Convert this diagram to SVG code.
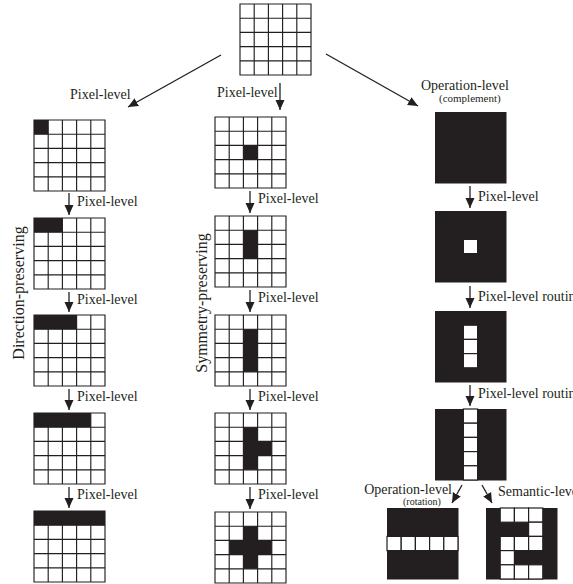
<svg xmlns="http://www.w3.org/2000/svg" xmlns:xlink="http://www.w3.org/1999/xlink" width="573" height="584" viewBox="0 0 573 584">
<style>
text{font-family:"Liberation Serif","DejaVu Serif",serif;fill:#231f20}
.lb{font-size:14px}
.sm{font-size:11px}
.xs{font-size:10px}
.vt{font-size:16px}
.bg{fill:#fff}
.k{fill:#231f20}
.wc{fill:#fff;stroke:#231f20;stroke-width:1.2}
.gl{fill:none;stroke:#231f20;stroke-width:1.15}
.con line{stroke:#231f20;stroke-width:1.3;marker-end:url(#ah)}
</style>
<defs>
<marker id="ah" markerUnits="userSpaceOnUse" markerWidth="10" markerHeight="10" refX="10" refY="5" orient="auto">
<path d="M0,0.5 L10,5 L0,9.5 z" fill="#231f20"/>
</marker>
<rect id="bgr" class="bg" width="71" height="71"/>
<path id="gl" class="gl" d="M0,0H71V71H0Z M14.2,0V71 M28.4,0V71 M42.6,0V71 M56.8,0V71 M0,14.2H71 M0,28.4H71 M0,42.6H71 M0,56.8H71"/>
<rect id="c" class="wc" width="14.2" height="14.2"/>
</defs>
<rect width="573" height="584" fill="#fff"/>

<g id="top" transform="translate(240,4)"><use xlink:href="#bgr"/><use xlink:href="#gl"/></g>

<g id="L1" transform="translate(34,120)"><use xlink:href="#bgr"/><rect class="k" width="14.2" height="14.2"/><use xlink:href="#gl"/></g>
<g id="L2" transform="translate(34,218)"><use xlink:href="#bgr"/><rect class="k" width="28.4" height="14.2"/><use xlink:href="#gl"/></g>
<g id="L3" transform="translate(34,315)"><use xlink:href="#bgr"/><rect class="k" width="42.6" height="14.2"/><use xlink:href="#gl"/></g>
<g id="L4" transform="translate(34,413)"><use xlink:href="#bgr"/><rect class="k" width="56.8" height="14.2"/><use xlink:href="#gl"/></g>
<g id="L5" transform="translate(34,511)"><use xlink:href="#bgr"/><rect class="k" width="71" height="14.2"/><use xlink:href="#gl"/></g>

<g id="M1" transform="translate(215,117)"><use xlink:href="#bgr"/><rect class="k" x="28.4" y="28.4" width="14.2" height="14.2"/><use xlink:href="#gl"/></g>
<g id="M2" transform="translate(215,216)"><use xlink:href="#bgr"/><rect class="k" x="28.4" y="14.2" width="14.2" height="28.4"/><use xlink:href="#gl"/></g>
<g id="M3" transform="translate(215,315)"><use xlink:href="#bgr"/><rect class="k" x="28.4" y="14.2" width="14.2" height="42.6"/><use xlink:href="#gl"/></g>
<g id="M4" transform="translate(215,413)"><use xlink:href="#bgr"/><rect class="k" x="28.4" y="14.2" width="14.2" height="42.6"/><rect class="k" x="42.6" y="28.4" width="14.2" height="14.2"/><use xlink:href="#gl"/></g>
<g id="M5" transform="translate(215,512)"><use xlink:href="#bgr"/><rect class="k" x="28.4" y="14.2" width="14.2" height="42.6"/><rect class="k" x="14.2" y="28.4" width="42.6" height="14.2"/><use xlink:href="#gl"/></g>

<g id="R1" transform="translate(435,112)"><rect class="k" width="71.5" height="71.5"/></g>
<g id="R2" transform="translate(435,211)"><rect class="k" width="71.5" height="71.5"/><use xlink:href="#c" x="28.4" y="28.4"/></g>
<g id="R3" transform="translate(435,311)"><rect class="k" width="71.5" height="71.5"/><use xlink:href="#c" x="28.4" y="14.2"/><use xlink:href="#c" x="28.4" y="28.4"/><use xlink:href="#c" x="28.4" y="42.6"/></g>
<g id="R4" transform="translate(435,409)"><rect class="k" width="71.5" height="71.5"/><use xlink:href="#c" x="28.4" y="0"/><use xlink:href="#c" x="28.4" y="14.2"/><use xlink:href="#c" x="28.4" y="28.4"/><use xlink:href="#c" x="28.4" y="42.6"/><use xlink:href="#c" x="28.4" y="56.8"/></g>
<g id="R5a" transform="translate(387,508)"><rect class="k" width="71.5" height="71.5"/><use xlink:href="#c" x="0" y="28.4"/><use xlink:href="#c" x="14.2" y="28.4"/><use xlink:href="#c" x="28.4" y="28.4"/><use xlink:href="#c" x="42.6" y="28.4"/><use xlink:href="#c" x="56.8" y="28.4"/></g>
<g id="R5b" transform="translate(486,508)"><rect class="k" width="71.5" height="71.5"/>
<use xlink:href="#c" x="14.2" y="0"/><use xlink:href="#c" x="28.4" y="0"/><use xlink:href="#c" x="42.6" y="0"/>
<use xlink:href="#c" x="42.6" y="14.2"/>
<use xlink:href="#c" x="14.2" y="28.4"/><use xlink:href="#c" x="28.4" y="28.4"/><use xlink:href="#c" x="42.6" y="28.4"/>
<use xlink:href="#c" x="14.2" y="42.6"/>
<use xlink:href="#c" x="14.2" y="56.8"/><use xlink:href="#c" x="28.4" y="56.8"/><use xlink:href="#c" x="42.6" y="56.8"/>
</g>

<g id="connectors" class="con">
<line x1="221" y1="55" x2="128" y2="107"/>
<line x1="280" y1="83" x2="280" y2="110"/>
<line x1="326" y1="54" x2="418" y2="106"/>
<line x1="69" y1="193" x2="69" y2="215"/>
<line x1="69" y1="292" x2="69" y2="312"/>
<line x1="69" y1="389" x2="69" y2="410"/>
<line x1="69" y1="487" x2="69" y2="508"/>
<line x1="250" y1="191" x2="250" y2="213"/>
<line x1="250" y1="290" x2="250" y2="312"/>
<line x1="250" y1="389" x2="250" y2="410"/>
<line x1="250" y1="487" x2="250" y2="509"/>
<line x1="470" y1="186" x2="470" y2="208"/>
<line x1="470" y1="286" x2="470" y2="308"/>
<line x1="470" y1="385" x2="470" y2="406"/>
<line x1="462" y1="485" x2="452" y2="503"/>
<line x1="482" y1="485" x2="492" y2="503"/>
</g>

<g id="labels">
<text class="lb" x="70" y="99">Pixel-level</text>
<text class="lb" x="217" y="97">Pixel-level</text>
<text class="lb" x="421" y="90">Operation-level</text>
<text class="sm" x="439" y="102">(complement)</text>
<text class="lb" x="77" y="206">Pixel-level</text>
<text class="lb" x="77" y="304">Pixel-level</text>
<text class="lb" x="77" y="401">Pixel-level</text>
<text class="lb" x="77" y="499">Pixel-level</text>
<text class="lb" x="258" y="203">Pixel-level</text>
<text class="lb" x="258" y="302">Pixel-level</text>
<text class="lb" x="258" y="401">Pixel-level</text>
<text class="lb" x="258" y="499">Pixel-level</text>
<text class="lb" x="478" y="201">Pixel-level</text>
<text class="lb" x="478" y="301">Pixel-level routine</text>
<text class="lb" x="478" y="398">Pixel-level routine</text>
<text class="lb" x="452" y="494" text-anchor="end">Operation-level</text>
<text class="xs" x="403" y="505">(rotation)</text>
<text class="lb" x="498" y="496">Semantic-level</text>
<text class="vt" transform="translate(24,293) rotate(-90)" text-anchor="middle">Direction-preserving</text>
<text class="vt" transform="translate(207,303) rotate(-90)" text-anchor="middle">Symmetry-preserving</text>
</g>
</svg>
